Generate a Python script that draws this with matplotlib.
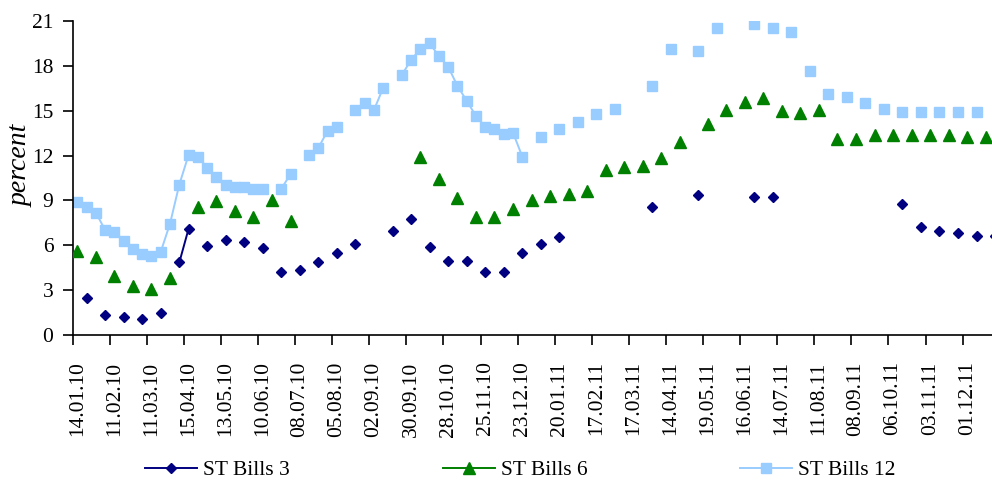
import numpy as np
import matplotlib
matplotlib.use("Agg")
import matplotlib.pyplot as plt
from matplotlib.ticker import FixedLocator, NullFormatter, FixedFormatter

N = None

tick_labels = ['14.01.10', '11.02.10', '11.03.10', '15.04.10', '13.05.10', '10.06.10',
               '08.07.10', '05.08.10', '02.09.10', '30.09.10', '28.10.10', '25.11.10',
               '23.12.10', '20.01.11', '17.02.11', '17.03.11', '14.04.11', '19.05.11',
               '16.06.11', '14.07.11', '11.08.11', '08.09.11', '06.10.11', '03.11.11',
               '01.12.11']

series_names = ['ST Bills 3', 'ST Bills 6', 'ST Bills 12']

bills3 = [N, 2.5, N, 1.35, N, 1.23, N, 1.08, N, 1.49,
          N, 4.85, 7.1, N, 5.95, N, 6.35, N, 6.22, N,
          5.84, N, 4.19, N, 4.37, N, 4.85, N, 5.46, N,
          6.1, N, N, N, 6.98, N, 7.74, N, 5.87, N,
          4.97, N, 4.97, N, 4.21, N, 4.21, N, 5.46, N,
          6.1, N, 6.58, N, N, N, N, N, N, N,
          N, N, 8.58, N, N, N, N, 9.36, N, N,
          N, N, N, 9.21, N, 9.21, N, N, N, N,
          N, N, N, N, N, N, N, N, N, 8.76,
          N, 7.2, N, 6.98, N, 6.84, N, 6.6, N, 6.6]

bills6 = [5.6, N, 5.2, N, 3.95, N, 3.3, N, 3.05, N,
          3.8, N, N, 8.55, N, 8.95, N, 8.3, N, 7.9,
          N, 9.05, N, 7.6, N, N, N, N, N, N,
          N, N, N, N, N, N, N, 11.93, N, 10.41,
          N, 9.16, N, 7.91, N, 7.91, N, 8.43, N, 9.03,
          N, 9.32, N, 9.43, N, 9.65, N, 11.06, N, 11.22,
          N, 11.33, N, 11.83, N, 12.94, N, N, 14.08, N,
          15.07, N, 15.58, N, 15.85, N, 14.96, N, 14.85, N,
          15.07, N, 13.1, N, 13.1, N, 13.35, N, 13.35, N,
          13.35, N, 13.35, N, 13.35, N, 13.25, N, 13.25, N]

bills12 = [8.92, 8.54, 8.18, 7.02, 6.91, 6.31, 5.75, 5.44, 5.31, 5.57,
           7.45, 10.06, 12.04, 11.93, 11.2, 10.55, 10.02, 9.92, 9.9, 9.78,
           9.77, N, 9.77, 10.77, N, 12.06, 12.5, 13.67, 13.93, N,
           15.05, 15.54, 15.05, 16.54, N, 17.39, 18.39, 19.13, 19.51, 18.66,
           17.95, 16.66, 15.67, 14.65, 13.93, 13.78, 13.42, 13.53, 11.93, N,
           13.27, N, 13.78, N, 14.27, N, 14.78, N, 15.12, N,
           N, N, 16.66, N, 19.13, N, N, 19.02, N, 20.56,
           N, N, N, 20.8, N, 20.56, N, 20.29, N, 17.66,
           N, 16.12, N, 15.94, N, 15.54, N, 15.14, N, 14.94,
           N, 14.94, N, 14.94, N, 14.94, N, 14.94, N, N]

plt.rcParams['font.family'] = ['Liberation Serif', 'DejaVu Serif']
FS = 15.5

W, H = 992, 482
fig = plt.figure(figsize=(W / 100, H / 100), dpi=100)
ax = fig.add_axes([72.7 / W, 1 - 335 / H, (W - 72.7) / W, (335 - 21) / H])

x = np.arange(len(bills12))
s3 = np.array(bills3, dtype=float)
s6 = np.array(bills6, dtype=float)
s12 = np.array(bills12, dtype=float)

ax.plot(x, s12, color='#99CCFF', lw=1.4, marker='s', ms=7.4, mec='#99CCFF',
        mfc='#99CCFF', label=series_names[2], zorder=2)
ax.plot(x, s6, color='#008000', lw=1.4, marker='^', ms=9.3, mec='#008000',
        mfc='#008000', label=series_names[1], zorder=3)
ax.plot(x, s3, color='#000080', lw=1.4, marker='D', ms=5.0, mec='#000080',
        mfc='#000080', label=series_names[0], zorder=4)

ax.set_ylim(0, 21)
ax.set_yticks(np.arange(0, 22, 3))
ax.set_xlim(-0.5, 98.67)

label_pos = np.arange(0, 4 * len(tick_labels), 4)
ax.xaxis.set_major_locator(FixedLocator(label_pos - 0.5))
ax.xaxis.set_major_formatter(NullFormatter())
ax.xaxis.set_minor_locator(FixedLocator(label_pos))
ax.xaxis.set_minor_formatter(FixedFormatter(tick_labels))
ax.tick_params(axis='x', which='major', length=7, width=1.2, direction='out')
ax.tick_params(axis='x', which='minor', length=0, pad=19, labelsize=FS, labelrotation=90)
ax.tick_params(axis='y', length=7, width=1.2, direction='out', pad=7, labelsize=FS)

for sp in ['top', 'right']:
    ax.spines[sp].set_visible(False)
for sp in ['left', 'bottom']:
    ax.spines[sp].set_linewidth(1.2)

fig.text(21 / W, 1 - 166 / H, 'percent', rotation=90, ha='center', va='center',
         fontsize=20, style='italic')

handles, labels = ax.get_legend_handles_labels()
order = [2, 1, 0]
fig.legend([handles[i] for i in order], [labels[i] for i in order], ncol=3,
           loc='center left', bbox_to_anchor=(145 / W, 1 - 470 / H), frameon=False,
           fontsize=FS, handlelength=2.42, handletextpad=0.28, columnspacing=7.1,
           borderpad=0, borderaxespad=0)

fig.savefig('out.png', dpi=100)
